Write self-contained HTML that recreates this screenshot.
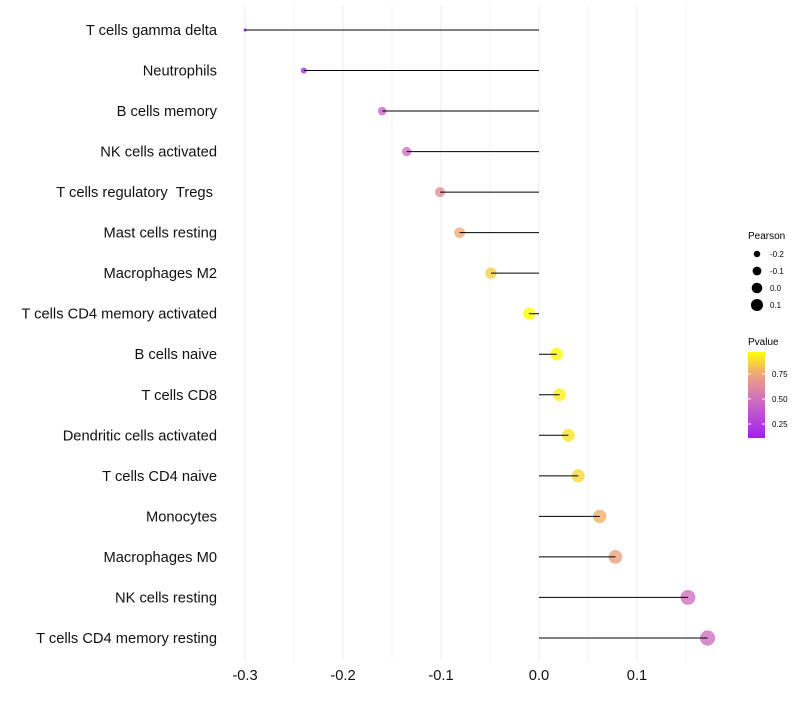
<!DOCTYPE html>
<html><head><meta charset="utf-8"><style>
body{margin:0;background:#fff;font-family:"Liberation Sans",sans-serif}
svg text{font-family:"Liberation Sans",sans-serif}
</style></head><body>
<svg id="chart" width="800" height="700" xmlns="http://www.w3.org/2000/svg">
<defs><linearGradient id="pg" x1="0" y1="1" x2="0" y2="0">
<stop offset="0" stop-color="#a020f0"/><stop offset="0.45" stop-color="#d070c0"/><stop offset="0.75" stop-color="#eea878"/><stop offset="1" stop-color="#ffff00"/></linearGradient></defs>
<g id="grid"></g><g id="marks"></g><g id="ylabels"></g><g id="xlabels"></g><g id="legend"></g>
</svg>
<script>
const categories=["T cells gamma delta","Neutrophils","B cells memory","NK cells activated","T cells regulatory\u00a0\u00a0Tregs\u00a0","Mast cells resting","Macrophages M2","T cells CD4 memory activated","B cells naive","T cells CD8","Dendritic cells activated","T cells CD4 naive","Monocytes","Macrophages M0","NK cells resting","T cells CD4 memory resting"];
const pearson=[-0.3,-0.24,-0.16,-0.135,-0.101,-0.081,-0.049,-0.010,0.018,0.021,0.030,0.040,0.062,0.078,0.152,0.172];
const pvalue=[0.1,0.2,0.45,0.5,0.65,0.75,0.85,0.97,0.95,0.93,0.9,0.87,0.78,0.72,0.5,0.5];
const xTicks=[-0.3,-0.2,-0.1,0.0,0.1];
const xTickLabels=["-0.3","-0.2","-0.1","0.0","0.1"];
const sizeBreaks=[-0.2,-0.1,0.0,0.1];
const pBreaks=[0.25,0.5,0.75];
const NS="http://www.w3.org/2000/svg";
function mk(t,a,p){const e=document.createElementNS(NS,t);for(const k in a)e.setAttribute(k,a[k]);p.appendChild(e);return e;}
const xs=v=>539+(v*980);
const ys=i=>30+i*40.53;
const pmin=Math.min(...pearson),pmax=Math.max(...pearson);
const rs=v=>{const t=Math.max(0,(v-pmin)/(pmax-pmin));return Math.sqrt(2.5+(58-2.5)*t);};
function col(p){const t=Math.max(0,Math.min(1,(p-0.11)/(0.97-0.11)));
const st=[[0,[160,32,240]],[0.45,[208,112,192]],[0.75,[238,168,120]],[1,[255,255,0]]];
for(let i=1;i<st.length;i++){if(t<=st[i][0]){const a=st[i-1],b=st[i],f=(t-a[0])/(b[0]-a[0]);return "rgb("+a[1].map((c,j)=>Math.round(c+(b[1][j]-c)*f)).join(",")+")";}}return "rgb(255,255,0)";}
const grid=document.getElementById('grid');
for(let v=-0.3;v<=0.151;v+=0.05){const l=mk('line',{x1:xs(v),x2:xs(v),y1:5,y2:660,stroke:'#ebebeb','stroke-width':Math.abs(Math.round(v*20)%2)?0.6:1},grid);

}
const marks=document.getElementById('marks'),yl=document.getElementById('ylabels'),xl=document.getElementById('xlabels');
categories.forEach((c,i)=>{
const pt=mk('circle',{cx:xs(pearson[i]),cy:ys(i),r:rs(pearson[i]),fill:col(pvalue[i]),'fill-opacity':0.8},marks);


const sg=mk('line',{x1:xs(pearson[i]),x2:xs(0),y1:ys(i),y2:ys(i),stroke:'#000','stroke-width':1},marks);


const t=mk('text',{x:217,y:ys(i)+5,'text-anchor':'end','font-size':14.7,fill:'#111'},yl);t.textContent=c;


});
xTicks.forEach((v,i)=>{const t=mk('text',{x:xs(v),y:680,'text-anchor':'middle','font-size':14.7,fill:'#111'},xl);t.textContent=xTickLabels[i];

});
const lg=document.getElementById('legend');
let t=mk('text',{x:748,y:239,'font-size':10},lg);t.textContent="Pearson";


sizeBreaks.forEach((v,i)=>{const y=254+i*17;const c=mk('circle',{cx:757,cy:y,r:rs(v)*0.86,fill:'#000'},lg);


const tx=mk('text',{x:770,y:y+3,'font-size':8},lg);tx.textContent=v.toFixed(1);

});
t=mk('text',{x:748,y:345,'font-size':10},lg);t.textContent="Pvalue";


const bar=mk('rect',{x:748,y:352,width:17,height:86,fill:'url(#pg)'},lg);


pBreaks.forEach(p=>{const y=352+(0.97-p)*100;mk('line',{x1:748,x2:751,y1:y,y2:y,stroke:'#fff'},lg);mk('line',{x1:762,x2:765,y1:y,y2:y,stroke:'#fff'},lg);
const tx=mk('text',{x:772,y:y+3,'font-size':8},lg);tx.textContent=p.toFixed(2);

});
</script>
</body></html>
